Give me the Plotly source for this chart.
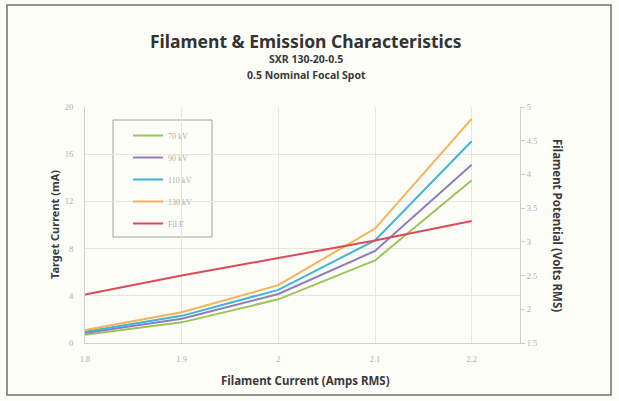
import plotly.graph_objects as go

x_current = [1.8, 1.9, 2.0, 2.1, 2.2]
kv70 = [0.7, 1.75, 3.7, 7.0, 13.8]
kv90 = [0.85, 2.05, 4.15, 7.8, 15.1]
kv110 = [0.95, 2.3, 4.5, 8.7, 17.1]
kv130 = [1.1, 2.6, 4.9, 9.7, 19.0]
fil_e = [2.22, 2.5, 2.76, 3.02, 3.31]

left_ticks = [0, 4, 8, 12, 16, 20]
right_ticks = [1.5, 2, 2.5, 3, 3.5, 4, 4.5, 5]
right_tick_text = ["1.5", "2", "2.5", "3", "3.5", "4", "4.5", "5"]
x_ticks = [1.8, 1.9, 2.0, 2.1, 2.2]
x_tick_text = ["1.8", "1.9", "2", "2.1", "2.2"]

W, H = 619, 401
L, R, T, B = 85, 520, 107, 343


def px(x):
    return (x - L) / (R - L)


def py(y):
    return (B - y) / (B - T)


fig = go.Figure()

series = [
    ("70 kV", kv70, "#9cc45a"),
    ("90 kV", kv90, "#8e7cc0"),
    ("110 kV", kv110, "#3fb3d8"),
    ("130 kV", kv130, "#f5b25c"),
]
for i, (name, ys, col) in enumerate(series):
    fig.add_trace(go.Scatter(x=x_current, y=ys, mode="lines", name=name,
                             legendgroup="g%d" % i,
                             line=dict(color=col, width=2), yaxis="y"))
fig.add_trace(go.Scatter(x=x_current, y=fil_e, mode="lines", name="Fil E",
                         legendgroup="g9",
                         line=dict(color="#dc4a5a", width=2), yaxis="y2"))

tickfont = dict(family="Liberation Serif, serif", size=8.5, color="#b0b0a8")
fig.update_layout(
    width=W, height=H,
    paper_bgcolor="#fdfdf8", plot_bgcolor="#fdfdf8",
    margin=dict(l=L, r=W - R, t=T, b=H - B),
    showlegend=True,
    legend=dict(x=px(128), y=py(121),
                xanchor="left", yanchor="top",
                bgcolor="rgba(0,0,0,0)", borderwidth=0,
                font=dict(family="Liberation Serif, serif", size=8, color="#b0b0a8"),
                itemwidth=30, tracegroupgap=3),
    xaxis=dict(range=[1.8, 2.25], tickvals=x_ticks, ticktext=x_tick_text,
               showgrid=True, gridcolor="#e6e6de", zeroline=False,
               showline=True, linecolor="#d0d0c8", tickfont=tickfont,
               ticks="", ticklabelstandoff=8),
    yaxis=dict(range=[0, 20], tickvals=left_ticks,
               showgrid=True, gridcolor="#e6e6de", zeroline=False,
               showline=True, linecolor="#d0d0c8", tickfont=tickfont, ticks="",
               ticklabelstandoff=9),
    yaxis2=dict(range=[1.5, 5], tickvals=right_ticks, ticktext=right_tick_text,
                overlaying="y", side="right", showgrid=False, zeroline=False,
                showline=True, linecolor="#d0d0c8", tickfont=tickfont,
                ticks="outside", ticklen=4, tickcolor="#d0d0c8"),
)


def ann(text, x, y, size, angle=0, color="#3a3a3a"):
    fig.add_annotation(text=text, x=px(x), y=py(y), xref="paper", yref="paper",
                       xanchor="center", yanchor="middle", showarrow=False,
                       textangle=angle,
                       font=dict(family="Noto Sans, sans-serif", size=size, color=color))


ann("<b>Filament & Emission Characteristics</b>", 306, 41, 17.5, color="#333333")
ann("<b>SXR 130-20-0.5</b>", 306, 59, 10.5)
ann("<b>0.5 Nominal Focal Spot</b>", 306, 75, 10.5)
ann("<b>Target Current (mA)</b>", 54, 225, 11, -90)
ann("<b>Filament Current (Amps RMS)</b>", 305, 380, 11.5)
ann("<b>Filament Potential (Volts RMS)</b>", 558, 225, 11.5, 90)

# legend frame
fig.add_shape(type="rect", xref="paper", yref="paper",
              x0=px(113), x1=px(212), y0=py(237), y1=py(120),
              line=dict(color="#a0a0a0", width=1), fillcolor="#fdfdf8",
              layer="between")
# chart border
fig.add_shape(type="rect", xref="paper", yref="paper",
              x0=px(7), x1=px(611), y0=py(395), y1=py(5),
              line=dict(color="#707070", width=1.5), layer="below")

fig.write_html("out.html", config={"displayModeBar": False},
               post_script="document.body.style.margin='0';")
